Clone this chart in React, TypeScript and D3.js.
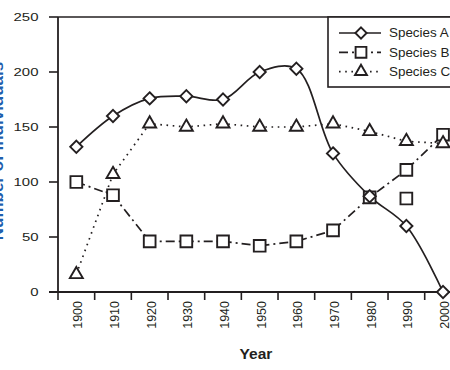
import React, { useEffect, useRef } from 'react';
import * as d3 from 'd3';

// values
const years = [1900, 1910, 1920, 1930, 1940, 1950, 1960, 1970, 1980, 1990, 2000];
const speciesA = [132, 160, 176, 178, 175, 200, 203, 126, 87, 60, 0];
const speciesB = [100, 88, 46, 46, 46, 42, 46, 56, 86, 111, 143];
const speciesC = [16, 107, 153, 150, 153, 150, 150, 153, 146, 137, 135];
// a lone Species B square that is not on the line
const speciesBExtraYears = [1990];
const speciesBExtraValues = [85];
const yTicks = [0, 50, 100, 150, 200, 250];
const seriesNames = ['Species A', 'Species B', 'Species C'];

const ink = '#231f20';
const font = '"Liberation Sans", Arial, Helvetica, sans-serif';

export default function App() {
    const svgRef = useRef<SVGSVGElement>(null);

    useEffect(() => {
        const width = 450;
        const svg = d3.select(svgRef.current);
        svg.selectAll('*').remove();

        const left = 58;
        const top = 17;
        const bottom = 292;

        // band scale: ticks sit on band edges, points in the middle
        const x = d3.scaleBand<number>()
            .domain(years)
            .range([left, left + 36.67 * years.length])
            .padding(0);
        const cx = (yr: number) => (x(yr) as number) + x.bandwidth() / 2;

        const y = d3.scaleLinear()
            .domain([0, 250])
            .range([bottom, top]);

        // frame top line
        svg.append('line')
            .attr('x1', left).attr('x2', width + 20)
            .attr('y1', y(250)).attr('y2', y(250))
            .attr('stroke', ink).attr('stroke-width', 1.6);

        // y axis
        svg.append('line')
            .attr('x1', left).attr('x2', left)
            .attr('y1', y(0)).attr('y2', y(250))
            .attr('stroke', ink).attr('stroke-width', 1.8);

        svg.append('g')
            .selectAll('line')
            .data(yTicks)
            .enter()
            .append('line')
            .attr('x1', left - 9).attr('x2', left)
            .attr('y1', d => y(d)).attr('y2', d => y(d))
            .attr('stroke', ink).attr('stroke-width', 1.6);

        svg.append('g')
            .selectAll('text')
            .data(yTicks)
            .enter()
            .append('text')
            .attr('transform', d => `translate(38.5,${y(d)}) scale(1.3,1)`)
            .attr('text-anchor', 'end')
            .attr('dy', '0.36em')
            .style('font-family', font)
            .style('font-size', '11.5px')
            .attr('fill', ink)
            .text(d => d);

        // x axis
        svg.append('line')
            .attr('x1', left - 9).attr('x2', width + 20)
            .attr('y1', y(0)).attr('y2', y(0))
            .attr('stroke', ink).attr('stroke-width', 1.8);

        const edges = years.map(yr => x(yr) as number).concat([x.range()[1]]);
        svg.append('g')
            .selectAll('line')
            .data(edges)
            .enter()
            .append('line')
            .attr('x1', d => d).attr('x2', d => d)
            .attr('y1', y(0)).attr('y2', y(0) + 8)
            .attr('stroke', ink).attr('stroke-width', 1.6);

        svg.append('g')
            .selectAll('text')
            .data(years)
            .enter()
            .append('text')
            .attr('transform', d => `translate(${cx(d) + 6},${y(0) + 9}) rotate(-90)`)
            .attr('text-anchor', 'end')
            .style('font-family', font)
            .style('font-size', '12.5px')
            .attr('fill', ink)
            .text(d => d);

        // axis titles
        svg.append('text')
            .attr('x', 256)
            .attr('y', 359)
            .attr('text-anchor', 'middle')
            .style('font-family', font)
            .style('font-size', '15.5px')
            .style('font-weight', 'bold')
            .attr('fill', ink)
            .text('Year');

        svg.append('text')
            .attr('transform', 'translate(3,151) rotate(-90)')
            .attr('text-anchor', 'middle')
            .style('font-family', font)
            .style('font-size', '17px')
            .style('font-weight', 'bold')
            .attr('fill', '#1f5fae')
            .text('Number of Individuals');

        // series
        const pts = (vals: number[]) => years.map((yr, i) => [cx(yr), y(vals[i])] as [number, number]);

        const series = [
            { name: seriesNames[0], vals: speciesA, dash: null, curve: d3.curveCatmullRom.alpha(0.5), symbol: d3.symbolDiamond2, size: 95 },
            { name: seriesNames[1], vals: speciesB, dash: '9,4,2,4', curve: d3.curveLinear, symbol: d3.symbolSquare2, size: 175 },
            { name: seriesNames[2], vals: speciesC, dash: '1.6,4.6', curve: d3.curveLinear, symbol: d3.symbolTriangle2, size: 120 },
        ];

        series.forEach(s => {
            svg.append('path')
                .attr('d', d3.line().curve(s.curve)(pts(s.vals)))
                .attr('fill', 'none')
                .attr('stroke', ink)
                .attr('stroke-width', 1.7)
                .attr('stroke-dasharray', s.dash);
        });

        const drawMarkers = (s: typeof series[number], points: [number, number][]) => {
            svg.append('g')
                .selectAll('path')
                .data(points)
                .enter()
                .append('path')
                .attr('transform', d => `translate(${d[0]},${d[1]})`)
                .attr('d', d3.symbol().type(s.symbol).size(s.size)())
                .attr('fill', '#fff')
                .attr('stroke', ink)
                .attr('stroke-width', 1.9);
        };

        drawMarkers(series[1], pts(speciesB));
        drawMarkers(series[1], speciesBExtraYears.map((yr, i) => [cx(yr), y(speciesBExtraValues[i])] as [number, number]));
        drawMarkers(series[2], pts(speciesC));
        drawMarkers(series[0], pts(speciesA));

        // legend
        const legend = svg.append('g').attr('class', 'legend');
        legend.append('rect')
            .attr('x', 328).attr('y', top)
            .attr('width', 160).attr('height', 70)
            .attr('fill', '#fff')
            .attr('stroke', ink)
            .attr('stroke-width', 1.6);

        const legendSpacing = 19.3;
        series.forEach((s, i) => {
            const ly = 33 + i * legendSpacing;
            legend.append('line')
                .attr('x1', 339).attr('x2', 381)
                .attr('y1', ly).attr('y2', ly)
                .attr('stroke', ink)
                .attr('stroke-width', 1.7)
                .attr('stroke-dasharray', s.dash);
            legend.append('path')
                .attr('transform', `translate(361,${ly})`)
                .attr('d', d3.symbol().type(s.symbol).size(s.size * 0.85)())
                .attr('fill', '#fff')
                .attr('stroke', ink)
                .attr('stroke-width', 1.9);
            legend.append('text')
                .attr('transform', `translate(389,${ly}) scale(1.1,1)`)
                .attr('dy', '0.36em')
                .style('font-family', font)
                .style('font-size', '12.2px')
                .attr('fill', ink)
                .text(s.name);
        });
    }, []);

    return (
        <div>
            <svg ref={svgRef} width={450} height={370}
                style={{ position: 'absolute', left: 0, top: 0, background: '#fff' }}></svg>
        </div>
    );
}
